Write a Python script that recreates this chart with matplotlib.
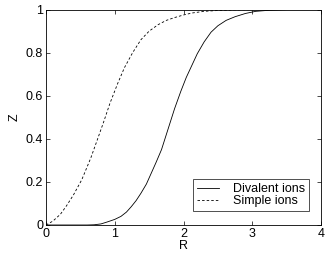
import matplotlib
matplotlib.use('Agg')
from matplotlib import pyplot as plt

plt.rcParams['font.family'] = ['Liberation Sans', 'DejaVu Sans']

# Simple ions (dashed)
simple_R = [0, 0.1, 0.21, 0.30, 0.40, 0.52, 0.65, 0.74, 0.84, 0.93, 1.04, 1.14,
            1.26, 1.38, 1.50, 1.63, 1.75, 1.87, 2.0, 2.12, 2.3, 2.5, 2.75, 3.0, 3.5]
simple_Z = [0, 0.018, 0.05, 0.09, 0.14, 0.21, 0.31, 0.39, 0.48, 0.565, 0.655, 0.73,
            0.80, 0.86, 0.90, 0.93, 0.95, 0.963, 0.975, 0.984, 0.992, 0.996, 0.999, 1.0, 1.0]

# Divalent ions (solid)
div_R = [0, 0.6, 0.7, 0.8, 0.89, 1.0, 1.09, 1.17, 1.24, 1.31, 1.38, 1.46, 1.53, 1.60,
         1.68, 1.78, 1.87, 1.96, 2.04, 2.12, 2.20, 2.30, 2.40, 2.50, 2.62, 2.75,
         2.90, 3.05, 3.25, 3.5]
div_Z = [0, 0, 0.001, 0.005, 0.014, 0.026, 0.04, 0.06, 0.085, 0.113, 0.147, 0.19, 0.24, 0.29,
         0.35, 0.45, 0.54, 0.62, 0.685, 0.74, 0.795, 0.85, 0.895, 0.925, 0.95, 0.967,
         0.982, 0.992, 0.997, 1.0]

xticks = [0, 1, 2, 3, 4]
yticks = [0, 0.2, 0.4, 0.6, 0.8, 1]
ytick_labels = ['0', '0.2', '0.4', '0.6', '0.8', '1']

fig = plt.figure(figsize=(3.27, 2.54), dpi=100)
ax = fig.add_axes([0.1407, 0.1142, 0.841, 0.848])

ax.plot(div_R, div_Z, '-', color='black', lw=0.6, label='Divalent ions')
ax.plot(simple_R, simple_Z, '--', color='black', lw=0.6, dashes=(3, 2.5), label='Simple ions')

ax.set_xlim(0, 4)
ax.set_ylim(0, 1)
ax.set_xticks(xticks)
ax.set_xticklabels([str(t) for t in xticks])
ax.set_yticks(yticks)
ax.set_yticklabels(ytick_labels)
ax.tick_params(direction='in', length=3, width=0.5, top=True, right=True,
               labelsize=9, pad=2)
for s in ax.spines.values():
    s.set_linewidth(0.6)

ax.set_xlabel('R', fontsize=9, labelpad=0)
ax.set_ylabel('Z', fontsize=9, labelpad=4)

leg = ax.legend(loc='lower right', bbox_to_anchor=(0.956, 0.0665), borderaxespad=0,
                fontsize=9, frameon=True, fancybox=False,
                edgecolor='black', borderpad=0.3, labelspacing=0.0,
                handlelength=1.8, handletextpad=1.1)
leg.get_frame().set_linewidth(0.6)

plt.savefig('out.png', dpi=100)
